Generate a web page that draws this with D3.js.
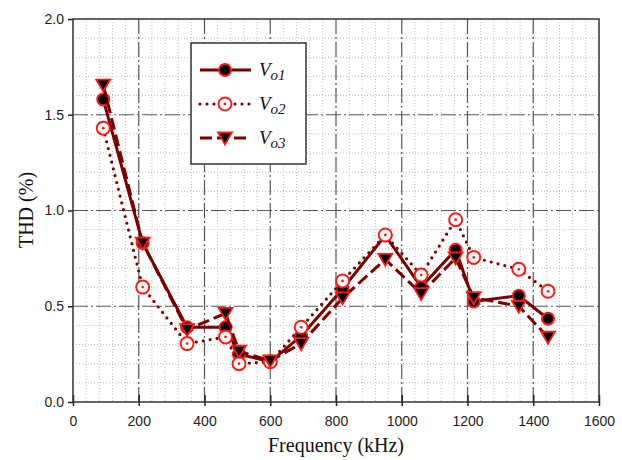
<!DOCTYPE html>
<html>
<head>
<meta charset="utf-8">
<script src="https://cdn.jsdelivr.net/npm/d3@7"></script>
<style>
    body { margin: 0; background: #fff; }
    .tick-label { font-family: "Liberation Sans", Arial, sans-serif; font-size: 14px; fill: #222; }
    .axis-title { font-family: "Liberation Serif", "Times New Roman", serif; font-size: 20px; fill: #111; }
    .legend-text { font-family: "Liberation Serif", serif; font-style: italic; fill: #111; }
</style>
</head>
<body>
<svg id="chart"></svg>
<script>
// frequency (kHz) of each measurement
var frequencies = [92, 212, 347, 464, 505, 600, 694, 820, 950, 1059, 1164, 1219, 1356, 1445];
// THD (%) for the three outputs
var vo1 = [1.58, 0.83, 0.39, 0.39, 0.25, 0.21, 0.345, 0.59, 0.87, 0.60, 0.795, 0.525, 0.555, 0.435];
var vo2 = [1.43, 0.60, 0.305, 0.34, 0.20, 0.21, 0.39, 0.632, 0.872, 0.663, 0.952, 0.755, 0.693, 0.578];
var vo3 = [1.655, 0.83, 0.378, 0.463, 0.265, 0.215, 0.305, 0.543, 0.745, 0.566, 0.752, 0.545, 0.50, 0.338];
var seriesNames = ["o1", "o2", "o3"];
var xTicks = [0, 200, 400, 600, 800, 1000, 1200, 1400, 1600];
var yTicks = [0.0, 0.5, 1.0, 1.5, 2.0];

var W = 622, H = 460;
var margin = { top: 19, right: 23, bottom: 58, left: 73 };
var width = W - margin.left - margin.right;
var height = H - margin.top - margin.bottom;

var lineColor = "#7a0000";
var markColor = "#ff1a1a";

var svg = d3.select("#chart").attr("width", W).attr("height", H);

var xScale = d3.scaleLinear().domain([0, 1600]).range([0, width]);
var yScale = d3.scaleLinear().domain([0, 2]).range([height, 0]);

var g = svg.append("g").attr("transform", "translate(" + margin.left + "," + margin.top + ")");

// minor dotted grid
g.append("g")
    .selectAll("line")
    .data(d3.range(40, 1600, 40).filter(function (d) { return d % 200 !== 0; }))
    .enter().append("line")
    .attr("x1", function (d) { return xScale(d); })
    .attr("x2", function (d) { return xScale(d); })
    .attr("y1", 0).attr("y2", height)
    .attr("stroke", "#bbb").attr("stroke-width", 1).attr("stroke-dasharray", "1,2");
g.append("g")
    .selectAll("line")
    .data(d3.range(1, 20).filter(function (d) { return d % 5 !== 0; }))
    .enter().append("line")
    .attr("x1", 0).attr("x2", width)
    .attr("y1", function (d) { return yScale(d / 10); })
    .attr("y2", function (d) { return yScale(d / 10); })
    .attr("stroke", "#bbb").attr("stroke-width", 1).attr("stroke-dasharray", "1,2");

// major dash-dot grid
g.append("g")
    .selectAll("line")
    .data(xTicks.slice(1, -1))
    .enter().append("line")
    .attr("x1", function (d) { return xScale(d); })
    .attr("x2", function (d) { return xScale(d); })
    .attr("y1", height).attr("y2", 0)
    .attr("stroke", "#555").attr("stroke-width", 1.2).attr("stroke-dasharray", "15,3,2,3");
g.append("g")
    .selectAll("line")
    .data(yTicks.slice(1, -1))
    .enter().append("line")
    .attr("x1", 0).attr("x2", width)
    .attr("y1", function (d) { return yScale(d); })
    .attr("y2", function (d) { return yScale(d); })
    .attr("stroke", "#555").attr("stroke-width", 1.2).attr("stroke-dasharray", "15,3,2,3");

// axes
var axisLeft = d3.axisLeft(yScale).tickValues(yTicks).tickSize(5).tickPadding(4).tickFormat(d3.format(".1f"));
var yAxisG = g.append("g").call(axisLeft);
var axisBottom = d3.axisBottom(xScale).tickValues(xTicks).tickSize(4).tickPadding(10).tickFormat(d3.format("d"));
var xAxisG = g.append("g").attr("transform", "translate(0," + height + ")").call(axisBottom);
[yAxisG, xAxisG].forEach(function (a) {
    a.select(".domain").remove();
    a.selectAll(".tick line").attr("stroke", "#222").attr("stroke-width", 1.5);
    a.selectAll(".tick text").attr("class", "tick-label").attr("font-size", null).attr("font-family", null);
});
// bottom ticks cross the axis line
xAxisG.selectAll(".tick line").attr("y1", -7);

// frame
g.append("rect")
    .attr("x", 0).attr("y", 0).attr("width", width).attr("height", height)
    .attr("fill", "none").attr("stroke", "#333").attr("stroke-width", 1.5);

// series
var lineGen = d3.line()
    .x(function (d) { return xScale(d[0]); })
    .y(function (d) { return yScale(d[1]); });

var series = [
    { values: vo1, dash: null, width: 3, cap: "butt", marker: "circle" },
    { values: vo2, dash: "0,7", width: 3.2, cap: "round", marker: "open" },
    { values: vo3, dash: "12,5", width: 3, cap: "butt", marker: "triangle" }
];

var triangle = "M-7,-5.5 L7,-5.5 L0,6.5 Z";

function drawMarker(sel, type) {
    if (type === "circle") {
        sel.append("circle").attr("r", 6).attr("fill", "#000").attr("stroke", markColor).attr("stroke-width", 2);
    } else if (type === "open") {
        sel.append("circle").attr("r", 6.5).attr("fill", "#fff").attr("stroke", markColor).attr("stroke-width", 2);
        sel.append("circle").attr("r", 1.4).attr("fill", markColor);
    } else {
        sel.append("path").attr("d", triangle).attr("fill", "#000").attr("stroke", markColor).attr("stroke-width", 1.8);
    }
}

series.forEach(function (s) {
    var pts = frequencies.map(function (f, i) { return [f, s.values[i]]; });
    g.append("path")
        .datum(pts)
        .attr("d", lineGen)
        .attr("fill", "none")
        .attr("stroke", lineColor)
        .attr("stroke-width", s.width)
        .attr("stroke-linecap", s.cap)
        .attr("stroke-dasharray", s.dash);
    var marks = g.append("g").selectAll("g")
        .data(pts)
        .enter().append("g")
        .attr("transform", function (d) { return "translate(" + xScale(d[0]) + "," + yScale(d[1]) + ")"; });
    drawMarker(marks, s.marker);
});

// axis titles
svg.append("text")
    .attr("class", "axis-title")
    .attr("text-anchor", "middle")
    .attr("x", margin.left + width / 2)
    .attr("y", 452)
    .text("Frequency (kHz)");
svg.append("text")
    .attr("class", "axis-title")
    .attr("text-anchor", "middle")
    .attr("transform", "translate(33,210) rotate(-90)")
    .text("THD (%)");

// legend
var legend = svg.append("g").attr("transform", "translate(191,43)");
legend.append("rect")
    .attr("width", 115).attr("height", 121)
    .attr("fill", "#fff").attr("stroke", "#333").attr("stroke-width", 1.5);

var legendY = d3.scalePoint().domain(d3.range(3)).range([27, 95]);
series.forEach(function (s, i) {
    var row = legend.append("g").attr("transform", "translate(0," + legendY(i) + ")");
    row.append("line")
        .attr("x1", 9).attr("x2", 60).attr("y1", 0).attr("y2", 0)
        .attr("stroke", lineColor)
        .attr("stroke-width", s.width)
        .attr("stroke-linecap", s.cap)
        .attr("stroke-dasharray", s.dash);
    drawMarker(row.append("g").attr("transform", "translate(34,0)"), s.marker);
    var t = row.append("text").attr("class", "legend-text").attr("x", 68).attr("y", 6);
    t.append("tspan").attr("font-size", "19px").text("V");
    t.append("tspan").attr("font-size", "15px").attr("dy", 4).text(seriesNames[i]);
});
</script>
</body>
</html>
